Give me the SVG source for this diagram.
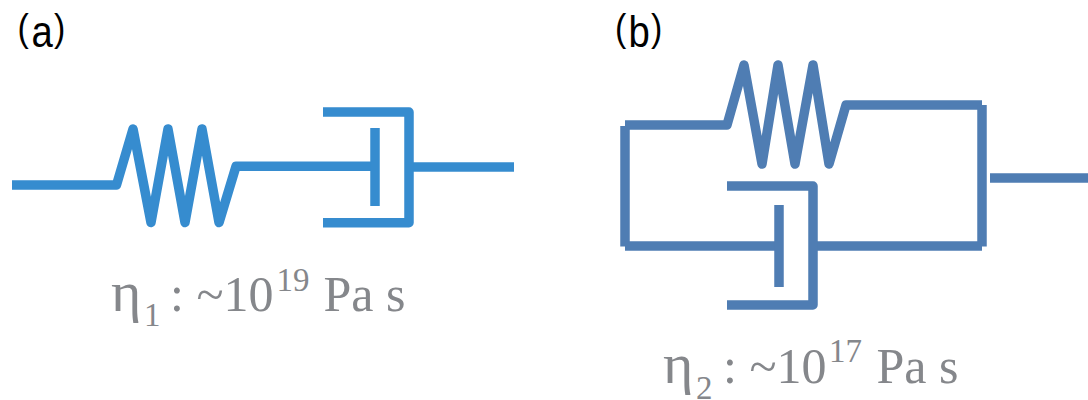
<svg xmlns="http://www.w3.org/2000/svg" width="1088" height="400" viewBox="0 0 1088 400">
<style>
.a{fill:none;stroke:#368ccf;stroke-width:9.5;stroke-linejoin:round}
.b{fill:none;stroke:#4f7db3;stroke-width:9.5;stroke-linejoin:round}
.h{font-family:"Liberation Sans",Arial,sans-serif;font-size:44px;fill:#000}
.p{font-size:39px}
.v{font-family:"Liberation Serif",serif;font-size:50px;fill:#85878b}
.e{font-size:58px}
.s{font-size:33px}
</style>
<rect width="1088" height="400" fill="#fff"/>
<g id="connectors">
<path class="a" d="M12 185H116.500L133 129L151 222.500L168 129L185 222.500L202 129L219 222.500L236 166.300H375"/>
<path class="a" d="M409 167H514"/>
<path class="b" d="M625 125H727L744 65L762 164L778 65L795 164L813 65L829 164L846 105H982"/>
<path class="b" d="M625 126V246.500"/>
<path class="b" d="M982 105V246.500"/>
<path class="b" d="M625 246H779"/>
<path class="b" d="M813 246H982"/>
<path class="b" d="M990 178H1088"/>
</g>
<g id="dashpot-a">
<path class="a" d="M323 112H409V222.700H323"/>
<path class="a" d="M375 128V206"/>
</g>
<g id="dashpot-b">
<path class="b" d="M727 186H813V305H727"/>
<path class="b" d="M779 205V287"/>
</g>
<g id="labels">
<text class="h" transform="scale(.87,1)"><tspan class="p" x="20" y="41.500">(</tspan><tspan x="36.200" y="47">a</tspan><tspan class="p" x="62" y="41.500">)</tspan></text>
<text class="h" transform="scale(.87,1)"><tspan class="p" x="707" y="41.500">(</tspan><tspan x="722.400" y="47">b</tspan><tspan class="p" x="748.300" y="41.500">)</tspan></text>
<text class="v" y="311"><tspan class="e" x="111">η</tspan><tspan class="s" x="144" y="326">1</tspan><tspan x="170" y="311">: ~10</tspan><tspan class="s" x="276.500" y="291">19</tspan><tspan x="323.500" y="311">Pa s</tspan></text>
<text class="v" y="383"><tspan class="e" x="663">η</tspan><tspan class="s" x="696" y="399">2</tspan><tspan x="723" y="383">: ~10</tspan><tspan class="s" x="829" y="362">17</tspan><tspan x="876.500" y="383">Pa s</tspan></text>
</g>
</svg>
